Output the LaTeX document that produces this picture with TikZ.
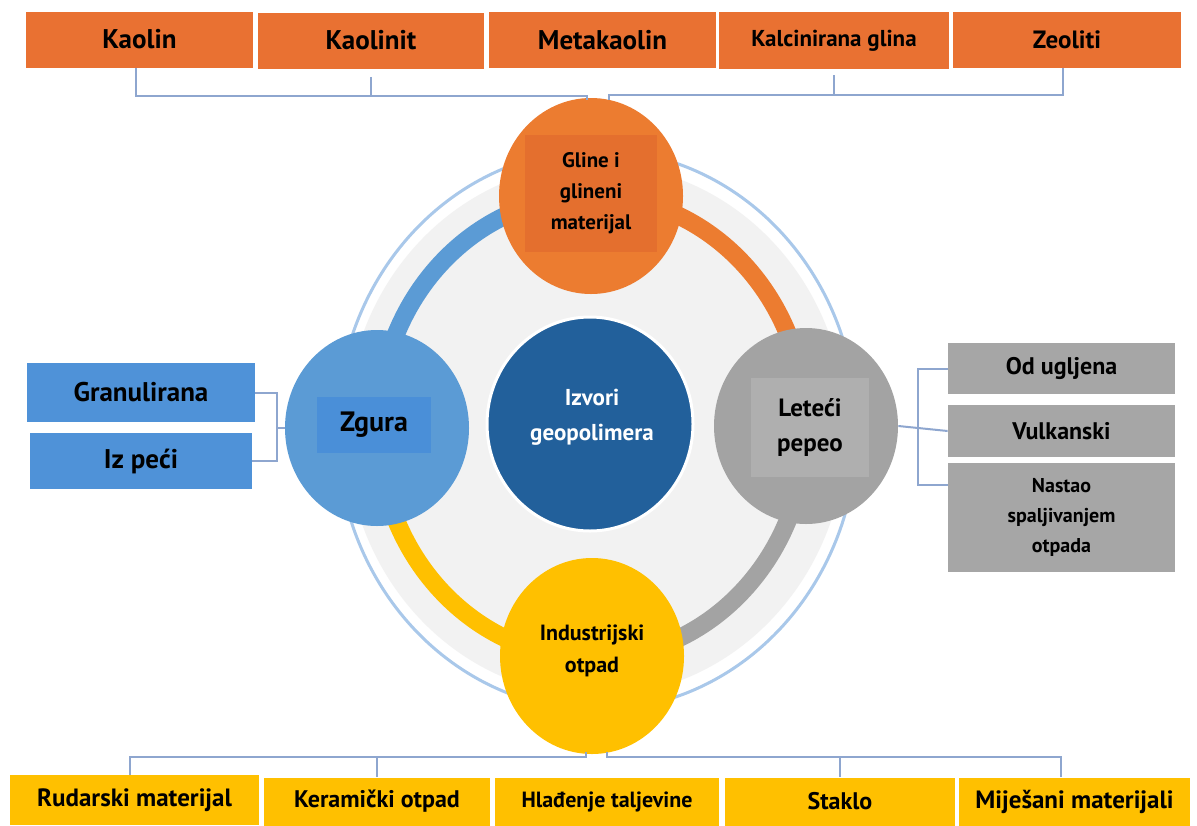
\documentclass[tikz,border=0pt]{standalone}
\usepackage{fontspec}
\setmainfont{PT Sans}
\usetikzlibrary{shapes.geometric,calc}
\definecolor{orgbox}{HTML}{E97132}
\definecolor{orgcirc}{HTML}{EC7C30}
\definecolor{orgin}{HTML}{E46F2E}
\definecolor{bluebox}{HTML}{4F92D8}
\definecolor{bluecirc}{HTML}{5B9BD5}
\definecolor{bluein}{HTML}{4A8FD8}
\definecolor{graybox}{HTML}{A6A6A6}
\definecolor{graycirc}{HTML}{A3A3A3}
\definecolor{grayin}{HTML}{AFAFAF}
\definecolor{yel}{HTML}{FFC000}
\definecolor{darkblue}{HTML}{22609B}
\definecolor{connc}{HTML}{8EA6CF}
\definecolor{ringc}{HTML}{A9C8EA}
\definecolor{diskc}{HTML}{F2F2F2}
\tikzset{
  box/.style={rectangle, inner sep=0pt, align=center, text=black},
  obox/.style={box, fill=orgbox, minimum height=28pt},
  bbox/.style={box, fill=bluebox},
  gbox/.style={box, fill=graybox},
  ybox/.style={box, fill=yel, minimum height=24pt},
  circ/.style={ellipse, inner sep=0pt, minimum width=92pt, minimum height=98pt},
  conn/.style={draw=connc, line width=1pt},
  band/.style={line width=9pt},
  lbl/.style={inner sep=0pt, align=center, text=black},
}
\newcommand{\fs}[2]{\fontsize{#1}{#2}\selectfont\bfseries}
\begin{document}
\begin{tikzpicture}[x=0.5pt,y=-0.5pt]
\useasboundingbox[fill=white] (0,0) rectangle (1197,825);

% background disk and outline ring
\fill[diskc] (596,430) ellipse [x radius=125pt, y radius=133pt];
\draw[ringc, line width=1.5pt] (597,430) ellipse [x radius=130pt, y radius=140pt];

% coloured bands
\coordinate (C) at (592,427);
\draw[band, draw=orgcirc] (C) ++(0:107pt and 115.5pt) arc[start angle=0, end angle=90, x radius=107pt, y radius=115.5pt];
\draw[band, draw=bluecirc] (C) ++(90:107pt and 115.5pt) arc[start angle=90, end angle=180, x radius=107pt, y radius=115.5pt];
\draw[band, draw=yel] (C) ++(180:107pt and 115.5pt) arc[start angle=180, end angle=270, x radius=107pt, y radius=115.5pt];
\draw[band, draw=graycirc] (C) ++(270:107pt and 115.5pt) arc[start angle=270, end angle=360, x radius=107pt, y radius=115.5pt];

% circles
\node[circ, fill=orgcirc] (gline) at (591,196) {};
\node[box, fill=orgin, minimum width=66pt, minimum height=58.5pt, font=\fs{10.5}{15.5}] (glinet) at (591,193.5) {Gline i\\glineni\\materijal};

\node[circ, fill=bluecirc] (zgura) at (377,428) {};
\node[box, fill=bluein, minimum width=57pt, minimum height=28pt, font=\fs{14}{16}] (zgurat) at (374,425) {Zgura};

\node[circ, fill=graycirc] (leteci) at (806,426) {};
\node[box, fill=grayin, minimum width=59pt, minimum height=49.5pt, font=\fs{12.5}{17.5}] (letecit) at (810,427.5) {Leteći\\pepeo};

\node[circ, fill=yel] (ind) at (592,656) {};
\node[lbl, font=\fs{11}{16}] (indt) at (592,651) {Industrijski\\otpad};

\node[ellipse, inner sep=0pt, minimum width=103pt, minimum height=107pt, fill=darkblue, draw=white, line width=1.5pt] (center) at (590,424) {};
\node[lbl, text=white, font=\fs{11.5}{17.5}] (centert) at (592,417.5) {Izvori\\geopolimera};

% top boxes
\node[obox, minimum width=113.5pt, font=\fs{13.5}{16}] (kaolin) at (139.5,39.5) {Kaolin};
\node[obox, minimum width=113pt, font=\fs{13.5}{16}] (kaolinit) at (371,40.5) {Kaolinit};
\node[obox, minimum width=113.5pt, font=\fs{13.5}{16}] (meta) at (602.5,40) {Metakaolin};
\node[obox, minimum width=115pt, minimum height=28.5pt, font=\fs{11.5}{13}] (kalc) at (834,40.5) {Kalcinirana glina};
\node[obox, minimum width=114pt, font=\fs{12.5}{15}] (zeo) at (1067,40) {Zeoliti};

\coordinate (tl) at (587,100);
\coordinate (tr) at (609,100);
\draw[conn] ([xshift=-2pt]kaolin.south) -- ++(0,28) -| (tl);
\draw[conn] ([yshift=-4pt]kaolinit.south) -- ++(0,20);
\draw[conn] (tr) -- ++(0,-5) -| ([xshift=-2pt]zeo.south);
\draw[conn] ([yshift=-3pt]kalc.south) -- ++(0,20);

% left boxes
\node[bbox, minimum width=114pt, minimum height=29.5pt, font=\fs{13.5}{15}] (gran) at (141,392.5) {Granulirana};
\node[bbox, minimum width=111pt, minimum height=28pt, font=\fs{13.5}{15}] (izpeci) at (141,461) {Iz peći};
\coordinate (jl) at (277,428);
\draw[conn] (gran.east) -| (jl) -- (zgura.west);
\draw[conn] (izpeci.east) -| (jl);

% right boxes
\node[gbox, minimum width=113.5pt, minimum height=25.5pt, font=\fs{12}{15}] (od) at (1061.5,368.5) {Od ugljena};
\node[gbox, minimum width=113.5pt, minimum height=26pt, font=\fs{12}{15}] (vulk) at (1061.5,431) {Vulkanski};
\node[gbox, minimum width=113.5pt, minimum height=54.5pt, font=\fs{10}{15}] (nastao) at (1061.5,517.5) {Nastao\\spaljivanjem\\otpada};
\coordinate (jr) at (918,432);
\draw[conn] (leteci.east) -- (vulk.west);
\draw[conn] (jr) |- (od.west);
\draw[conn] (jr) |- ([yshift=-11pt]nastao.north west);

% bottom boxes
\node[ybox, minimum width=124.5pt, minimum height=25pt, font=\fs{12.5}{15}] (rud) at (134.5,800) {Rudarski materijal};
\node[ybox, minimum width=113pt, font=\fs{12}{15}] (ker) at (377,801.5) {Keramički otpad};
\node[ybox, minimum width=112pt, font=\fs{11}{12}] (hla) at (607,801.5) {Hlađenje taljevine};
\node[ybox, minimum width=115pt, font=\fs{12}{15}] (stak) at (840,801.5) {Staklo};
\node[ybox, minimum width=115.5pt, font=\fs{12.5}{15}] (mij) at (1074.5,801.5) {Miješani materijali};
\coordinate (bl) at (586,752);
\coordinate (br) at (607,752);
\draw[conn] (bl) -- ++(0,5) -| ([xshift=-2.5pt]rud.north);
\draw[conn] (ker.north) -- ++(0,-21);
\draw[conn] (br) -- ++(0,5) -| ([xshift=-7pt]mij.north);
\draw[conn] (stak.north) -- ++(0,-21);
\end{tikzpicture}
\end{document}
